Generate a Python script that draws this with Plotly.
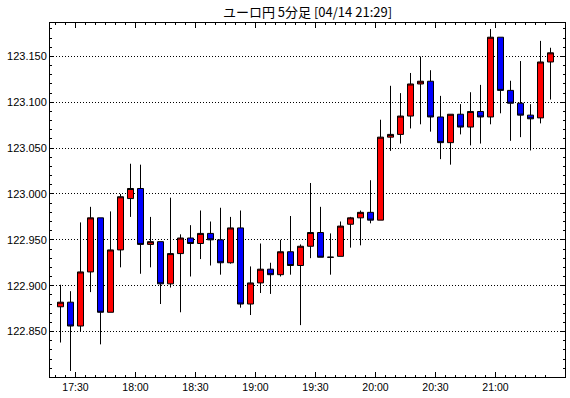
import pandas as pd
import plotly.graph_objects as go

title_text = "ユーロ円 5分足 [04/14 21:29]"

# 5-minute bars, 17:20 .. 21:25
times = pd.date_range("2024-04-14 17:20", periods=50, freq="5min")

open_ = [122.877, 122.882, 122.856, 122.915, 122.974, 122.871, 122.939, 122.995, 123.006, 122.945,
         122.948, 122.902, 122.935, 122.952, 122.946, 122.957, 122.950, 122.925, 122.963, 122.880,
         122.903, 122.918, 122.912, 122.937, 122.922, 122.943, 122.958, 122.931, 122.932, 122.967,
         122.974, 122.980, 122.9715, 123.062, 123.065, 123.085, 123.120, 123.123, 123.084, 123.056,
         123.087, 123.073, 123.090, 123.084, 123.171, 123.113, 123.099, 123.086, 123.083, 123.144]
high = [122.901, 122.894, 122.969, 122.986, 122.974, 122.981, 123.000, 123.033, 123.032, 122.975,
        122.948, 122.996, 122.956, 122.966, 122.982, 122.970, 122.985, 122.975, 122.982, 122.921,
        122.946, 122.925, 122.950, 122.976, 122.945, 123.012, 122.986, 122.957, 122.970, 122.975,
        122.982, 123.015, 123.081, 123.118, 123.110, 123.132, 123.150, 123.135, 123.107, 123.087,
        123.098, 123.111, 123.119, 123.180, 123.171, 123.1235, 123.145, 123.098, 123.167, 123.1595]
low = [122.838, 122.807, 122.850, 122.893, 122.836, 122.871, 122.920, 122.975, 122.913, 122.920,
       122.880, 122.898, 122.871, 122.910, 122.929, 122.922, 122.912, 122.924, 122.876, 122.868,
       122.892, 122.891, 122.910, 122.912, 122.857, 122.930, 122.931, 122.912, 122.932, 122.9415,
       122.944, 122.968, 122.9715, 123.047, 123.055, 123.0715, 123.076, 123.068, 123.038, 123.032,
       123.065, 123.053, 123.055, 123.076, 123.088, 123.058, 123.062, 123.0475, 123.077, 123.103]
close = [122.882, 122.856, 122.915, 122.974, 122.871, 122.939, 122.997, 123.006, 122.945, 122.948,
         122.902, 122.935, 122.952, 122.946, 122.957, 122.950, 122.925, 122.963, 122.880, 122.903,
         122.918, 122.912, 122.937, 122.922, 122.943, 122.958, 122.931, 122.931, 122.965, 122.974,
         122.980, 122.9715, 123.062, 123.065, 123.085, 123.120, 123.123, 123.084, 123.056, 123.087,
         123.073, 123.090, 123.084, 123.171, 123.113, 123.099, 123.086, 123.082, 123.144, 123.154]

x_labels = ["17:30", "18:00", "18:30", "19:00", "19:30", "20:00", "20:30", "21:00"]
y_ticks = [122.85, 122.90, 122.95, 123.00, 123.05, 123.10, 123.15]

half = pd.Timedelta(minutes=2.5)
label_times = [pd.Timestamp("2024-04-14 " + t) - half for t in x_labels]
edge_times = [t - half for t in times]

fig = go.Figure(go.Candlestick(
    x=times, open=open_, high=high, low=low, close=close,
    increasing=dict(fillcolor="#FF0000", line=dict(color="black", width=1)),
    decreasing=dict(fillcolor="#0000FF", line=dict(color="black", width=1)),
    whiskerwidth=0, showlegend=False, hoverinfo="skip",
))

step = pd.Timedelta(minutes=5)
fig.update_layout(
    width=570, height=398,
    margin=dict(l=50, r=5, t=23, b=21),
    paper_bgcolor="white", plot_bgcolor="white",
    boxgap=0.4, boxgroupgap=0,
    title=dict(text=title_text, x=0.5, xref="paper", xanchor="center",
               y=1 - 12.8 / 398, yref="container", yanchor="middle",
               font=dict(family="Noto Sans CJK JP", size=13, color="black")),
    xaxis=dict(
        type="date", rangeslider=dict(visible=False),
        range=[times[0] - step * 1.05, times[0] + step * 50.45],
        tickmode="array", tickvals=label_times, ticktext=x_labels,
        ticks="inside", ticklen=5, tickcolor="black", tickwidth=1,
        showline=True, linecolor="black", linewidth=1, mirror="allticks",
        showgrid=False, zeroline=False,
        tickfont=dict(family="Liberation Sans", size=10.5, color="black"),
        minor=dict(tickmode="array", tickvals=edge_times, ticks="inside", ticklen=2,
                   tickcolor="black", showgrid=False),
    ),
    yaxis=dict(
        range=[122.8004, 123.1865],
        tickmode="array", tickvals=y_ticks, ticktext=[f"{v:.3f}" for v in y_ticks],
        ticks="inside", ticklen=4, tickcolor="black", tickwidth=1,
        showline=True, linecolor="black", linewidth=1, mirror="allticks",
        showgrid=True, gridcolor="black", gridwidth=1, griddash="1px,2px",
        zeroline=False,
        tickfont=dict(family="Liberation Sans", size=11, color="black"),
        minor=dict(dtick=0.01, tick0=122.80, ticks="inside", ticklen=2,
                   tickcolor="black", showgrid=False),
    ),
)

fig.write_html("out.html")
